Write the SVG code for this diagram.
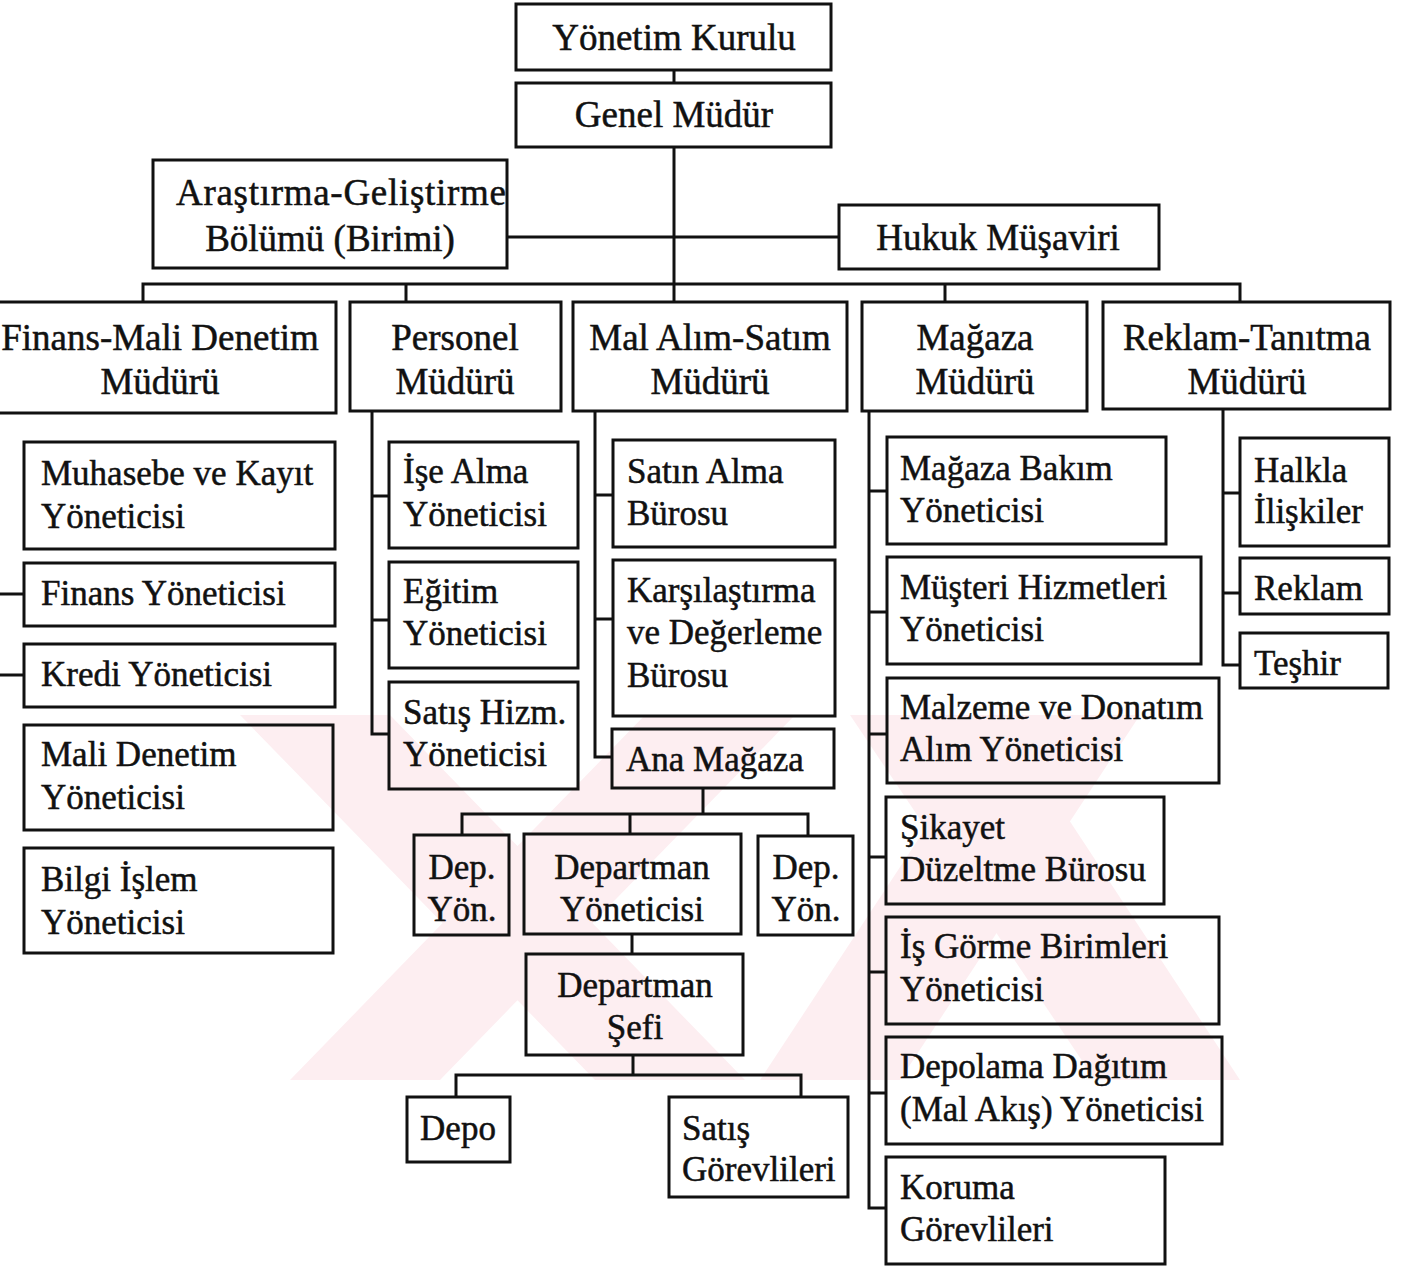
<svg xmlns="http://www.w3.org/2000/svg" width="1407" height="1270" viewBox="0 0 1407 1270">
  <style>
    .box { fill: none; stroke: #111; stroke-width: 3; }
    .ln { fill: none; stroke: #111; stroke-width: 3; }
    .t { font-family: "Liberation Serif", "Times New Roman", serif; font-size: 35px; fill: #111; stroke: #111; stroke-width: 0.5; }
    .big { font-size: 37px; }
    .c { text-anchor: middle; }
    .wm { fill: #fdeef1; }
  </style>
  <defs>
    <clipPath id="wmClip">
      <rect x="220" y="715" width="1022" height="365"/>
    </clipPath>
  </defs>
  <rect width="1407" height="1270" fill="#fff"/>

  <!-- background mark: two crossed pairs of bands -->
  <g id="watermark" clip-path="url(#wmClip)">
    <polygon class="wm" points="240,715 390,715 745,1080 595,1080"/>
    <polygon class="wm" points="645,715 795,715 440,1080 290,1080"/>
    <polygon class="wm" points="1000,715 1140,715 900,1080 760,1080"/>
    <polygon class="wm" points="850,715 1000,715 1240,1080 1095,1080"/>
  </g>

  <!-- connectors -->
  <g id="connectors">
    <path class="ln" d="M674,70 V83"/>
    <path class="ln" d="M674,147 V301"/>
    <path class="ln" d="M507,237 H838"/>
    <path class="ln" d="M143,302 V284 H1240 V302"/>
    <path class="ln" d="M406,284 V302"/>
    <path class="ln" d="M945,284 V302"/>
    <!-- finance column -->
    <path class="ln" d="M0,594 H24"/>
    <path class="ln" d="M0,675 H24"/>
    <!-- personnel column -->
    <path class="ln" d="M372,411 V734 H389"/>
    <path class="ln" d="M372,496 H389"/>
    <path class="ln" d="M372,620 H389"/>
    <!-- purchasing column -->
    <path class="ln" d="M595,411 V757 H612"/>
    <path class="ln" d="M595,495 H613"/>
    <path class="ln" d="M595,619 H613"/>
    <!-- main store branch -->
    <path class="ln" d="M703,788 V814"/>
    <path class="ln" d="M462,835 V814 H808 V836"/>
    <path class="ln" d="M630,814 V833"/>
    <path class="ln" d="M632,934 V954"/>
    <path class="ln" d="M633,1055 V1075"/>
    <path class="ln" d="M456,1096 V1075 H801 V1097"/>
    <!-- store column -->
    <path class="ln" d="M869,411 V1208 H886"/>
    <path class="ln" d="M869,491 H887"/>
    <path class="ln" d="M869,612 H887"/>
    <path class="ln" d="M869,734 H887"/>
    <path class="ln" d="M869,857 H886"/>
    <path class="ln" d="M869,972 H886"/>
    <path class="ln" d="M869,1093 H886"/>
    <!-- advertising column -->
    <path class="ln" d="M1223,409 V665 H1240"/>
    <path class="ln" d="M1223,493 H1240"/>
    <path class="ln" d="M1223,593 H1240"/>
  </g>

  <!-- top tiers -->
  <g id="yonetim-kurulu">
    <rect class="box" x="516" y="4" width="315" height="66"/>
    <text class="t big c" x="674" y="50">Yönetim Kurulu</text>
  </g>
  <g id="genel-mudur">
    <rect class="box" x="516" y="83" width="315" height="64"/>
    <text class="t big c" x="674" y="127">Genel Müdür</text>
  </g>
  <g id="arge">
    <rect class="box" x="153" y="160" width="354" height="108"/>
    <text class="t big c" x="341" y="205" textLength="330">Araştırma-Geliştirme</text>
    <text class="t big c" x="330" y="251">Bölümü (Birimi)</text>
  </g>
  <g id="hukuk">
    <rect class="box" x="839" y="205" width="320" height="64"/>
    <text class="t big c" x="998" y="250">Hukuk Müşaviri</text>
  </g>

  <!-- department heads -->
  <g id="finans-mudur">
    <rect class="box" x="-2" y="302" width="338" height="111"/>
    <text class="t big c" x="160" y="350">Finans-Mali Denetim</text>
    <text class="t big c" x="160" y="394">Müdürü</text>
  </g>
  <g id="personel-mudur">
    <rect class="box" x="350" y="302" width="211" height="109"/>
    <text class="t big c" x="455" y="350">Personel</text>
    <text class="t big c" x="455" y="394">Müdürü</text>
  </g>
  <g id="mal-alim-mudur">
    <rect class="box" x="573" y="302" width="274" height="109"/>
    <text class="t big c" x="710" y="350">Mal Alım-Satım</text>
    <text class="t big c" x="710" y="394">Müdürü</text>
  </g>
  <g id="magaza-mudur">
    <rect class="box" x="862" y="302" width="225" height="109"/>
    <text class="t big c" x="975" y="350">Mağaza</text>
    <text class="t big c" x="975" y="394">Müdürü</text>
  </g>
  <g id="reklam-mudur">
    <rect class="box" x="1103" y="302" width="287" height="107"/>
    <text class="t big c" x="1247" y="350">Reklam-Tanıtma</text>
    <text class="t big c" x="1247" y="394">Müdürü</text>
  </g>

  <!-- finance units -->
  <g id="muhasebe">
    <rect class="box" x="24" y="442" width="311" height="107"/>
    <text class="t" x="41" y="485">Muhasebe ve Kayıt</text>
    <text class="t" x="41" y="528">Yöneticisi</text>
  </g>
  <g id="finans-yon">
    <rect class="box" x="24" y="563" width="311" height="63"/>
    <text class="t" x="41" y="605">Finans Yöneticisi</text>
  </g>
  <g id="kredi-yon">
    <rect class="box" x="24" y="644" width="311" height="63"/>
    <text class="t" x="41" y="686">Kredi Yöneticisi</text>
  </g>
  <g id="mali-denetim">
    <rect class="box" x="24" y="725" width="309" height="105"/>
    <text class="t" x="41" y="766">Mali Denetim</text>
    <text class="t" x="41" y="809">Yöneticisi</text>
  </g>
  <g id="bilgi-islem">
    <rect class="box" x="24" y="848" width="309" height="105"/>
    <text class="t" x="41" y="891">Bilgi İşlem</text>
    <text class="t" x="41" y="934">Yöneticisi</text>
  </g>

  <!-- personnel units -->
  <g id="ise-alma">
    <rect class="box" x="389" y="442" width="189" height="106"/>
    <text class="t" x="403" y="483">İşe Alma</text>
    <text class="t" x="403" y="526">Yöneticisi</text>
  </g>
  <g id="egitim">
    <rect class="box" x="389" y="562" width="189" height="106"/>
    <text class="t" x="403" y="603">Eğitim</text>
    <text class="t" x="403" y="645">Yöneticisi</text>
  </g>
  <g id="satis-hizm">
    <rect class="box" x="389" y="682" width="189" height="107"/>
    <text class="t" x="403" y="724">Satış Hizm.</text>
    <text class="t" x="403" y="766">Yöneticisi</text>
  </g>

  <!-- purchasing units -->
  <g id="satin-alma">
    <rect class="box" x="613" y="440" width="222" height="107"/>
    <text class="t" x="627" y="483">Satın Alma</text>
    <text class="t" x="627" y="525">Bürosu</text>
  </g>
  <g id="karsilastirma">
    <rect class="box" x="613" y="560" width="222" height="156"/>
    <text class="t" x="627" y="602">Karşılaştırma</text>
    <text class="t" x="627" y="644">ve Değerleme</text>
    <text class="t" x="627" y="687">Bürosu</text>
  </g>
  <g id="ana-magaza">
    <rect class="box" x="612" y="729" width="222" height="59"/>
    <text class="t" x="626" y="771">Ana Mağaza</text>
  </g>

  <!-- main store departments -->
  <g id="dep-yon-sol">
    <rect class="box" x="414" y="835" width="95" height="100"/>
    <text class="t c" x="462" y="879">Dep.</text>
    <text class="t c" x="462" y="921">Yön.</text>
  </g>
  <g id="departman-yon">
    <rect class="box" x="524" y="834" width="217" height="100"/>
    <text class="t c" x="632" y="879">Departman</text>
    <text class="t c" x="632" y="921">Yöneticisi</text>
  </g>
  <g id="dep-yon-sag">
    <rect class="box" x="758" y="836" width="95" height="99"/>
    <text class="t c" x="806" y="879">Dep.</text>
    <text class="t c" x="806" y="921">Yön.</text>
  </g>
  <g id="departman-sefi">
    <rect class="box" x="526" y="954" width="217" height="101"/>
    <text class="t c" x="635" y="997">Departman</text>
    <text class="t c" x="635" y="1039">Şefi</text>
  </g>
  <g id="depo">
    <rect class="box" x="407" y="1097" width="103" height="65"/>
    <text class="t c" x="458" y="1140">Depo</text>
  </g>
  <g id="satis-gorevlileri">
    <rect class="box" x="669" y="1097" width="179" height="100"/>
    <text class="t" x="682" y="1140">Satış</text>
    <text class="t" x="682" y="1181">Görevlileri</text>
  </g>

  <!-- store units -->
  <g id="magaza-bakim">
    <rect class="box" x="887" y="437" width="279" height="107"/>
    <text class="t" x="900" y="480">Mağaza Bakım</text>
    <text class="t" x="900" y="522">Yöneticisi</text>
  </g>
  <g id="musteri-hizm">
    <rect class="box" x="887" y="557" width="314" height="107"/>
    <text class="t" x="900" y="599">Müşteri Hizmetleri</text>
    <text class="t" x="900" y="641">Yöneticisi</text>
  </g>
  <g id="malzeme">
    <rect class="box" x="887" y="678" width="332" height="105"/>
    <text class="t" x="900" y="719">Malzeme ve Donatım</text>
    <text class="t" x="900" y="761">Alım Yöneticisi</text>
  </g>
  <g id="sikayet">
    <rect class="box" x="886" y="797" width="278" height="107"/>
    <text class="t" x="900" y="839">Şikayet</text>
    <text class="t" x="900" y="881">Düzeltme Bürosu</text>
  </g>
  <g id="is-gorme">
    <rect class="box" x="886" y="917" width="333" height="107"/>
    <text class="t" x="900" y="958">İş Görme Birimleri</text>
    <text class="t" x="900" y="1001">Yöneticisi</text>
  </g>
  <g id="depolama">
    <rect class="box" x="886" y="1037" width="336" height="107"/>
    <text class="t" x="900" y="1078">Depolama Dağıtım</text>
    <text class="t" x="900" y="1121">(Mal Akış) Yöneticisi</text>
  </g>
  <g id="koruma">
    <rect class="box" x="886" y="1157" width="279" height="107"/>
    <text class="t" x="900" y="1199">Koruma</text>
    <text class="t" x="900" y="1241">Görevlileri</text>
  </g>

  <!-- advertising units -->
  <g id="halkla-iliskiler">
    <rect class="box" x="1240" y="438" width="149" height="108"/>
    <text class="t" x="1254" y="482">Halkla</text>
    <text class="t" x="1254" y="523">İlişkiler</text>
  </g>
  <g id="reklam">
    <rect class="box" x="1240" y="558" width="149" height="56"/>
    <text class="t" x="1254" y="600">Reklam</text>
  </g>
  <g id="teshir">
    <rect class="box" x="1240" y="633" width="148" height="55"/>
    <text class="t" x="1254" y="675">Teşhir</text>
  </g>
</svg>
